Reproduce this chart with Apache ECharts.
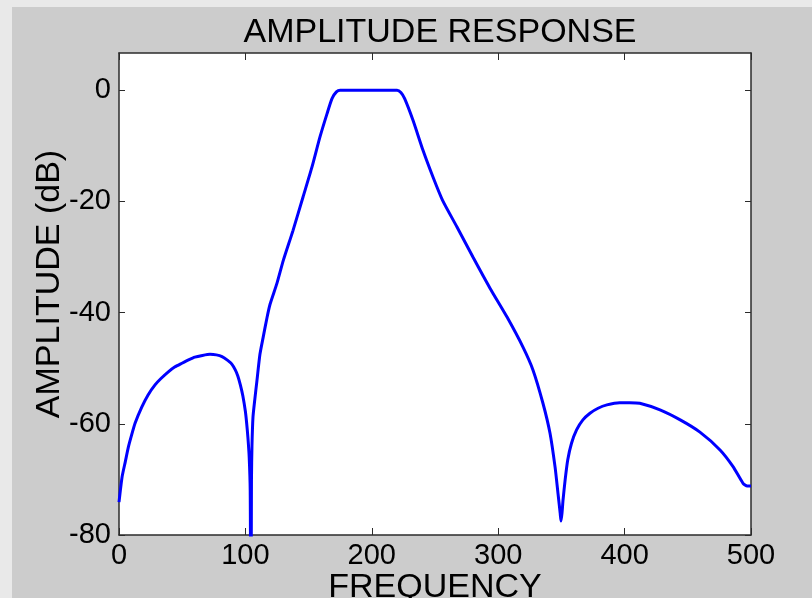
<!DOCTYPE html>
<html>
<head>
<meta charset="utf-8">
<script src="https://cdn.jsdelivr.net/npm/echarts@6.0.0/dist/echarts.min.js"></script>
<style>
html, body { margin: 0; padding: 0; background: #e9e9e9; }
#chart { position: absolute; left: 12px; top: 7px; width: 800px; height: 591px; }
</style>
</head>
<body>
<div id="chart"></div>
<script>
// frequency points (x) and amplitude in dB (y)
const freq = [0, 2.4, 5, 7.4, 10, 12.7, 18, 23, 28.5, 33, 38.8, 44, 49.8, 55, 60, 66, 72, 77, 81.5, 86,
  89.4, 92, 94, 96, 98, 100, 101, 102, 103, 103.8, 104.4, 104.8, 105.2, 106, 107.5, 109, 111.5, 114, 117, 119.5,
  125, 130, 137.7, 145.6, 152.7, 159, 164.6, 168.5, 172, 175, 220, 223, 226, 232.6, 240.5, 248.4, 256, 267.4, 280, 293.5,
  307, 319.6, 327.5, 335.4, 341, 345, 347.3, 349, 349.7, 350.5, 351.3, 353, 355, 358, 362, 367, 372.6, 379, 386, 396,
  404, 412, 428, 444, 459.6, 475.5, 485.8, 493.7, 497, 500]
const amplitude = [-74.1, -69.6, -66.8, -64.2, -62, -59.9, -57, -54.8, -53, -51.9, -50.7, -49.8, -49.1, -48.5, -48, -47.7, -47.5, -47.6, -47.9, -48.6,
  -49.3, -50.3, -51.4, -53, -55, -57.8, -59.9, -62.5, -66, -72, -100, -70, -64, -58.8, -55.5, -52.5, -47.5, -44.5, -41, -38.5,
  -34.7, -30.6, -25.2, -19.2, -13.8, -8.4, -4.2, -1.5, -0.3, 0, 0, -0.4, -1.5, -5.4, -10.8, -15.6, -19.8, -24.6, -30, -35.6,
  -40.8, -46.2, -50.3, -56.3, -61.7, -67.8, -72.5, -76, -77.5, -76, -73.7, -70, -66.5, -63.5, -61.1, -59.3, -58.1, -57.2, -56.6, -56.2,
  -56.2, -56.3, -57.5, -59.3, -61.5, -64.7, -67.7, -70.7, -71.2, -71.2]
const xTicks = [0, 100, 200, 300, 400, 500]
const yTicks = [-80, -60, -40, -20, 0]

const font = 'Liberation Sans, Arial, sans-serif'
const axisColor = '#2b2b2b'

const chart = echarts.init(document.getElementById('chart'))
const points = freq.map((f, i) => [f, amplitude[i]])

// box axes: ticks inside, no labels on top / right
const boxX = {
  type: 'value', min: 0, max: 500, interval: 100,
  axisLine: { show: true, onZero: false, lineStyle: { color: axisColor, width: 1.5 } },
  axisTick: { show: true, inside: true, length: 7, lineStyle: { color: axisColor } },
  splitLine: { show: false }
}
const boxY = {
  type: 'value', min: -80, max: 6.7, interval: 20,
  axisLine: { show: true, onZero: false, lineStyle: { color: axisColor, width: 1.5 } },
  axisTick: {
    show: true, inside: true, length: 6, lineStyle: { color: axisColor },
    customValues: yTicks
  },
  splitLine: { show: false }
}

const option = {
  backgroundColor: '#cccccc',
  animation: false,
  title: {
    text: 'AMPLITUDE RESPONSE',
    left: 423,
    top: 4,
    textAlign: 'center',
    textStyle: { fontFamily: font, fontSize: 34, fontWeight: 'normal', color: '#000' }
  },
  grid: {
    left: 107,
    right: 61,
    top: 46,
    bottom: 63,
    show: true,
    backgroundColor: '#fff',
    borderWidth: 0,
    containLabel: false,
    outerBoundsMode: 'none'
  },
  xAxis: [
    Object.assign({}, boxX, {
      position: 'bottom',
      name: 'FREQUENCY',
      nameLocation: 'middle',
      nameGap: 36,
      nameMoveOverlap: false,
      nameTextStyle: { fontFamily: font, fontSize: 34, color: '#000' },
      axisLabel: {
        margin: 6,
        fontFamily: font,
        fontSize: 29,
        color: '#000',
        formatter: v => (xTicks.indexOf(v) >= 0 ? String(v) : '')
      }
    }),
    Object.assign({}, boxX, { position: 'top', axisLabel: { show: false } })
  ],
  yAxis: [
    Object.assign({}, boxY, {
      position: 'left',
      name: 'AMPLITUDE (dB)',
      nameLocation: 'middle',
      nameGap: 52,
      nameMoveOverlap: false,
      nameRotate: 90,
      nameTextStyle: { fontFamily: font, fontSize: 34, color: '#000', padding: [0, 0, 0, 20] },
      axisLabel: {
        margin: 8,
        fontFamily: font,
        fontSize: 29,
        color: '#000',
        formatter: v => (yTicks.indexOf(v) >= 0 ? String(v) : '')
      }
    }),
    Object.assign({}, boxY, { position: 'right', axisLabel: { show: false } })
  ],
  series: [
    {
      type: 'line',
      data: points,
      showSymbol: false,
      clip: true,
      smooth: 0.2,
      lineStyle: { color: '#0000ff', width: 3 }
    }
  ]
}
chart.setOption(option)
window.addEventListener('resize', () => chart.resize())
</script>
</body>
</html>
